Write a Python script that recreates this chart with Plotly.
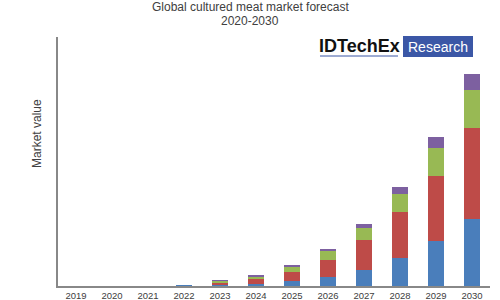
import plotly.graph_objects as go

years = ["2019", "2020", "2021", "2022", "2023", "2024", "2025", "2026", "2027", "2028", "2029", "2030"]
blue = [0, 0, 0, 0.6, 0.7, 2.4, 5.0, 9.0, 16.4, 28.0, 45.0, 67.4]
red = [0, 0, 0, 0, 2.5, 4.6, 9.0, 17.0, 29.3, 45.7, 65.3, 90.6]
green = [0, 0, 0, 0, 2.0, 2.7, 5.7, 9.0, 12.3, 18.0, 27.4, 37.7]
purple = [0, 0, 0, 0, 0.5, 1.0, 1.3, 2.0, 4.4, 7.3, 11.0, 16.7]

series = [("Segment A", blue, "#4A7EBB"), ("Segment B", red, "#BE4B48"),
          ("Segment C", green, "#98B954"), ("Segment D", purple, "#7D60A0")]

W, H = 500, 300
L, R, T, B = 58, 10, 37, 14
pw, ph = W - L - R, H - T - B

def px(x):
    return (x - L) / pw

def py(y):
    return (H - B - y) / ph

fig = go.Figure()
for name, vals, col in series:
    fig.add_trace(go.Bar(x=years, y=vals, name=name, marker=dict(color=col, line=dict(width=0)),
                         width=0.42))

fig.update_layout(
    barmode="stack",
    width=W, height=H,
    margin=dict(l=L, r=R, t=T, b=B, autoexpand=False),
    plot_bgcolor="white", paper_bgcolor="white",
    showlegend=False,
    font=dict(family="Liberation Sans, Arial, sans-serif", color="#404040"),
    xaxis=dict(showline=True, linecolor="#888888", linewidth=1.5, ticks="", showgrid=False,
               automargin=False, tickfont=dict(size=9.5, color="#404040"), ticklabelstandoff=0),
    yaxis=dict(showline=True, linecolor="#888888", linewidth=1.5, range=[0, 249], showgrid=False,
               automargin=False, showticklabels=False, ticks="", zeroline=False),
)

fig.add_annotation(text="Global cultured meat market forecast", xref="paper", yref="paper",
                   x=px(250), y=py(7), showarrow=False, font=dict(size=12, color="#404040"),
                   xanchor="center", yanchor="middle")
fig.add_annotation(text="2020-2030", xref="paper", yref="paper",
                   x=px(250), y=py(20.5), showarrow=False, font=dict(size=12, color="#404040"),
                   xanchor="center", yanchor="middle")
fig.add_annotation(text="Market value", xref="paper", yref="paper", textangle=-90,
                   x=px(37), y=py(134), showarrow=False, font=dict(size=12, color="#404040"),
                   xanchor="center", yanchor="middle")

# logo
fig.add_shape(type="rect", xref="paper", yref="paper", x0=px(403), x1=px(473), y0=py(57), y1=py(36),
              fillcolor="#3B57A6", line=dict(width=0))
fig.add_shape(type="line", xref="paper", yref="paper", x0=px(320), x1=px(398), y0=py(56), y1=py(56),
              line=dict(color="#3B57A6", width=1))
fig.add_annotation(text="<b>IDTechEx</b>", xref="paper", yref="paper", x=px(359), y=py(46),
                   showarrow=False, font=dict(size=18, color="#111111"), xanchor="center", yanchor="middle")
fig.add_annotation(text="Research", xref="paper", yref="paper", x=px(438), y=py(46.5),
                   showarrow=False, font=dict(size=14, color="white"), xanchor="center", yanchor="middle")

fig.write_html("out.html")
